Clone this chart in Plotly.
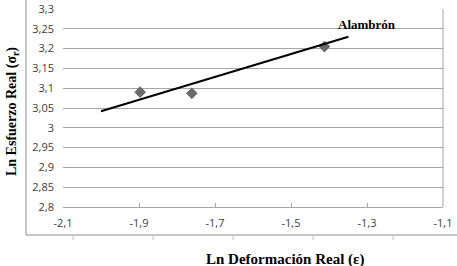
import plotly.graph_objects as go

# Data
ln_strain = [-1.897, -1.761, -1.412]
ln_stress = [3.090, 3.087, 3.205]
trend_x = [-2.0, -1.349]
trend_y = [3.042, 3.230]
x_ticks = [-2.1, -1.9, -1.7, -1.5, -1.3, -1.1]
x_tick_labels = ["-2,1", "-1,9", "-1,7", "-1,5", "-1,3", "-1,1"]
y_ticks = [2.8, 2.85, 2.9, 2.95, 3.0, 3.05, 3.1, 3.15, 3.2, 3.25, 3.3]
y_tick_labels = ["2,8", "2,85", "2,9", "2,95", "3", "3,05", "3,1", "3,15", "3,2", "3,25", "3,3"]
series_label = "Alambrón"

W, H = 457, 266
L, R, T, B = 63, 14, 9, 59
pw, ph = W - L - R, H - T - B

fig = go.Figure()
fig.add_trace(go.Scatter(x=ln_strain, y=ln_stress, mode="markers",
                         marker=dict(symbol="diamond", size=9, color="#6b6b6b"),
                         showlegend=False))
fig.add_trace(go.Scatter(x=trend_x, y=trend_y, mode="lines",
                         line=dict(color="black", width=2), showlegend=False))

fig.add_annotation(x=-1.30, y=3.262, text="<b>" + series_label + "</b>", showarrow=False,
                   xanchor="center", yanchor="middle",
                   font=dict(family="Liberation Serif", size=13, color="black"))

# axis titles
fig.add_annotation(xref="paper", yref="paper", x=(285 - L) / pw, y=(H - B - 259) / ph,
                   xanchor="center", yanchor="middle",
                   text="<b>Ln Deformación Real (ε)</b>", showarrow=False,
                   font=dict(family="Liberation Serif", size=15, color="black"))
fig.add_annotation(xref="paper", yref="paper", x=(12 - L) / pw, y=(H - B - 112) / ph,
                   xanchor="center", yanchor="middle",
                   text="<b>Ln Esfuerzo Real (σ<sub>r</sub>)</b>", showarrow=False, textangle=-90,
                   font=dict(family="Liberation Serif", size=14, color="black"))

frame = "#8c8c8c"
def px(xp):
    return (xp - L) / pw
def py(yp):
    return (H - B - yp) / ph

shapes = [
    dict(type="line", xref="paper", yref="paper", x0=1, x1=1, y0=0, y1=1,
         line=dict(color="#a6a6a6", width=1)),
    dict(type="line", xref="paper", yref="paper", x0=px(26), x1=px(26), y0=py(0), y1=py(235),
         line=dict(color=frame, width=1)),
    dict(type="line", xref="paper", yref="paper", x0=px(26), x1=px(457), y0=py(235), y1=py(235),
         line=dict(color=frame, width=1)),
]
for tx in [73, 153, 233, 313, 393]:
    shapes.append(dict(type="line", xref="paper", yref="paper", x0=px(tx), x1=px(tx),
                       y0=py(235), y1=py(240), line=dict(color="#c0c0c0", width=1)))

fig.update_layout(
    width=W, height=H, margin=dict(l=L, r=R, t=T, b=B, autoexpand=False),
    paper_bgcolor="white", plot_bgcolor="white",
    shapes=shapes,
    xaxis=dict(range=[-2.1, -1.1], tickvals=x_ticks, ticktext=x_tick_labels,
               showgrid=False, zeroline=False, showline=True, linecolor="#a6a6a6",
               ticks="inside", ticklen=4, tickcolor="#a6a6a6",
               tickfont=dict(family="Open Sans", size=11, color="#404040"),
               ticklabelstandoff=6),
    yaxis=dict(range=[2.8, 3.3], tickvals=y_ticks, ticktext=y_tick_labels,
               showgrid=True, gridcolor="#a6a6a6", zeroline=False, showline=False,
               ticks="", tickfont=dict(family="Open Sans", size=11, color="#404040"),
               ticklabelstandoff=8),
)
fig.write_html("out.html", config={"displayModeBar": False},
               post_script="document.body.style.margin='0';document.body.style.padding='0';")
